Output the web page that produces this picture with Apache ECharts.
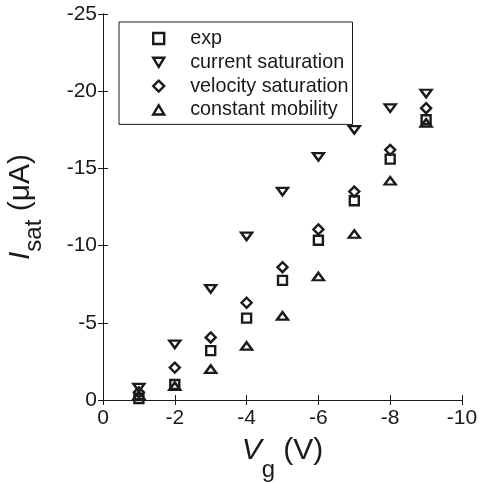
<!DOCTYPE html>
<html>
<head>
<meta charset="utf-8">
<script src="https://cdn.jsdelivr.net/npm/echarts@6/dist/echarts.min.js"></script>
<style>
  html, body { margin: 0; padding: 0; background: #fff; }
  #chart { width: 479px; height: 483px; }
</style>
</head>
<body>
<div id="chart"></div>
<script>
// Gate voltage (V)
const gateVoltage = [-1, -2, -3, -4, -5, -6, -7, -8, -9];
// Saturation current (uA) for each model and the measurement
const expCurrent = [-0.1, -1.0, -3.2, -5.3, -7.75, -10.35, -12.9, -15.6, -18.15];
const currentSaturation = [-0.8, -3.6, -7.2, -10.6, -13.5, -15.75, -17.5, -18.9, -19.85];
const velocitySaturation = [-0.5, -2.1, -4.05, -6.3, -8.6, -11.05, -13.5, -16.2, -18.9];
const constantMobility = [-0.3, -0.9, -2.0, -3.5, -5.45, -8.0, -10.75, -14.2, -17.95];
const seriesNames = ['exp', 'current saturation', 'velocity saturation', 'constant mobility'];

const FONT = 'Liberation Sans, Arial, Helvetica, sans-serif';
const INK = '#1a1a1a';
const DOWN_TRIANGLE = 'path://M0,0L12,0L6,10Z';
const UP_TRIANGLE = 'path://M6,0L12,10L0,10Z';

function pairs(ys) {
  return gateVoltage.map((x, i) => [x, ys[i]]);
}

function markerSeries(name, ys, symbol, size) {
  return {
    name: name,
    type: 'scatter',
    data: pairs(ys),
    symbol: symbol,
    symbolSize: size,
    symbolKeepAspect: true,
    itemStyle: { color: 'rgba(255,255,255,0)', borderColor: INK, borderWidth: 2.4, opacity: 1 },
    emphasis: { disabled: true },
    animation: false
  };
}

const tickStyle = { show: true, inside: true, length: 5, lineStyle: { color: INK, width: 1 } };
const lineStyle = { show: true, lineStyle: { color: INK, width: 1 } };

const chart = echarts.init(document.getElementById('chart'), null, { renderer: 'canvas' });
chart.setOption({
  backgroundColor: '#fff',
  animation: false,
  grid: { left: 103, right: 17, top: 14, bottom: 83, containLabel: false, outerBoundsMode: 'none' },
  legend: {
    orient: 'vertical',
    left: 119,
    top: 22,
    data: seriesNames,
    itemWidth: 11,
    itemHeight: 11,
    itemGap: 3.8,
    padding: [6.5, 4, 4.5, 33],
    borderColor: INK,
    borderWidth: 1,
    backgroundColor: '#fff',
    selectedMode: false,
    itemStyle: { color: 'rgba(255,255,255,0)', borderColor: INK, borderWidth: 2.4 },
    textStyle: { fontFamily: FONT, fontSize: 19.8, color: INK, padding: [0, 0, 0, 21] }
  },
  xAxis: [
    {
      type: 'value', position: 'bottom', min: -10, max: 0, interval: 2, inverse: true,
      axisLine: lineStyle, axisTick: tickStyle, splitLine: { show: false },
      axisLabel: { fontFamily: FONT, fontSize: 21, color: INK, margin: 8 },
      name: '{v|V}{g|g}{t| (V)}',
      nameLocation: 'middle',
      nameGap: 36,
      nameTextStyle: {
        rich: {
          v: { fontFamily: FONT, fontSize: 30, fontStyle: 'italic', color: INK, verticalAlign: 'top' },
          g: { fontFamily: FONT, fontSize: 24, color: INK, verticalAlign: 'top', padding: [22, 0, 0, 0] },
          t: { fontFamily: FONT, fontSize: 30, color: INK, verticalAlign: 'top' }
        }
      }
    },
    {
      type: 'value', position: 'top', min: -10, max: 0, interval: 2, inverse: true,
      axisLine: lineStyle, axisTick: tickStyle, axisLabel: { show: false }, splitLine: { show: false }
    }
  ],
  yAxis: [
    {
      type: 'value', position: 'left', min: -25, max: 0, interval: 5, inverse: true,
      axisLine: lineStyle, axisTick: tickStyle, splitLine: { show: false },
      axisLabel: { fontFamily: FONT, fontSize: 21, color: INK, margin: 6 },
      name: '{i|I}{s|sat}{t| (\u03bcA)}',
      nameLocation: 'middle',
      nameGap: 57,
      nameTextStyle: {
        rich: {
          i: { fontFamily: FONT, fontSize: 30, fontStyle: 'italic', color: INK, verticalAlign: 'top' },
          s: { fontFamily: FONT, fontSize: 24, color: INK, verticalAlign: 'top', padding: [16, 0, 0, 0] },
          t: { fontFamily: FONT, fontSize: 30, color: INK, verticalAlign: 'top' }
        }
      }
    },
    {
      type: 'value', position: 'right', min: -25, max: 0, interval: 5, inverse: true,
      axisLine: lineStyle, axisTick: tickStyle, axisLabel: { show: false }, splitLine: { show: false }
    }
  ],
  series: [
    markerSeries(seriesNames[0], expCurrent, 'rect', 9),
    markerSeries(seriesNames[1], currentSaturation, DOWN_TRIANGLE, [11, 9]),
    markerSeries(seriesNames[2], velocitySaturation, 'diamond', [10, 10]),
    markerSeries(seriesNames[3], constantMobility, UP_TRIANGLE, [11, 9])
  ]
});
</script>
</body>
</html>
